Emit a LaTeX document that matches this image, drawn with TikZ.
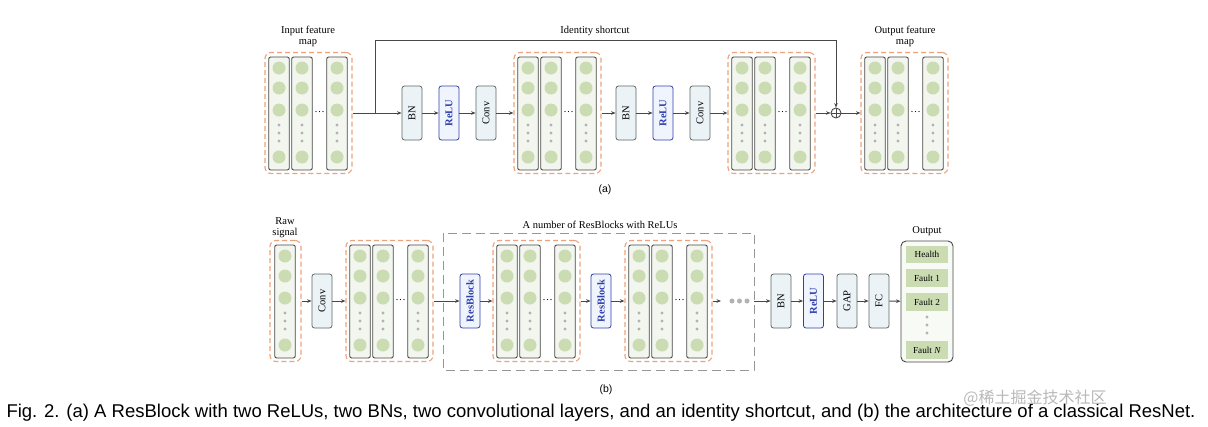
\documentclass[tikz,border=0pt]{standalone}
\usepackage{graphicx}
\usepackage{fontspec}
\setmainfont{Liberation Serif}
\newfontfamily\capfont{Liberation Sans}
\newfontfamily\cjkfont{Noto Sans CJK SC}
\usetikzlibrary{arrows.meta}

\definecolor{fmorange}{RGB}{236,162,124}
\definecolor{colfill}{RGB}{242,246,239}
\definecolor{cellgreen}{RGB}{203,219,178}
\definecolor{dotgray}{RGB}{178,178,178}
\definecolor{layerfill}{RGB}{236,243,246}
\definecolor{layerdraw}{RGB}{95,102,102}
\definecolor{relublue}{RGB}{48,64,170}
\definecolor{relufill}{RGB}{240,244,252}
\definecolor{linegray}{RGB}{72,72,72}
\definecolor{groupgray}{RGB}{150,150,150}

\tikzset{
  fmap/.style={draw=fmorange, dash pattern=on 5pt off 3pt, line width=1.1pt, rounded corners=6pt, minimum height=121pt, inner sep=0pt},
  column/.style={draw=linegray, fill=colfill, line width=0.9pt, rounded corners=2pt, minimum width=20.5pt, minimum height=113pt, inner sep=0pt},
  cell/.style={circle, fill=cellgreen, minimum size=13pt, inner sep=0pt},
  smalldot/.style={circle, fill=dotgray, minimum size=3.4pt, inner sep=0pt},
  layer/.style={draw=layerdraw, fill=layerfill, line width=0.8pt, rounded corners=2.5pt, minimum width=20pt, minimum height=54pt, inner sep=0pt, font=\fontsize{10.5}{11}\selectfont},
  relubox/.style={layer, draw=relublue, fill=relufill, text=relublue, font=\fontsize{10.5}{11}\selectfont\bfseries},
  resbox/.style={layer, draw=relublue, fill=relufill, text=relublue, font=\fontsize{10.5}{11}\selectfont\bfseries},
  outitem/.style={fill=cellgreen, minimum width=42pt, minimum height=17.5pt, inner sep=0pt, font=\fontsize{9.2}{10}\selectfont},
  label/.style={font=\fontsize{10.5}{11}\selectfont, align=center},
  tag/.style={font=\capfont\fontsize{10.5}{12}\selectfont},
  link/.style={->, draw=linegray, line width=0.9pt},
  >={Stealth[length=4.5pt,width=3.6pt]}
}

\begin{document}
\begin{tikzpicture}[x=1pt, y=-1pt]

\path[use as bounding box, fill=white] (0,0) rectangle (1208,426);

\foreach \nm/\xl/\yt in {fa1/265/52, fa2/514/52, fa3/728/52, fa4/861/52, fb2/346/240, fb3/493/240, fb4/625/240} {
  \node[fmap, minimum width=87pt] (\nm) at (\xl+43.5,\yt+61) {};
  \foreach \cx in {14,37,72} {
    \node[column] at (\xl+\cx,\yt+61.5) {};
    \foreach \cy in {16,36,58,105} \node[cell] at (\xl+\cx,\yt+\cy) {};
    \foreach \cy in {73,81,89} \node[smalldot] at (\xl+\cx,\yt+\cy) {};
  }
  \node[label] at (\xl+54.5,\yt+60) {\dots};
}

\node[fmap, minimum width=31pt] (raw) at (285.5,301) {};
\node[column] at (285,301.5) {};
\foreach \cy in {16,36,58,105} \node[cell] at (285,240+\cy) {};
\foreach \cy in {73,81,89} \node[smalldot] at (285,240+\cy) {};

\node[label] (infm) at (308,36.5) {Input feature\\map};

\node[label] (outfm) at (905,36.5) {Output feature\\map};

\node[label] (idsc) at (595,31) {Identity shortcut};

\node[layer] (bn1) at (412,113) {\rotatebox{90}{BN}};
\node[relubox] (relu1) at (449,113) {\rotatebox{90}{ReLU}};
\node[layer] (conv1) at (486,113) {\rotatebox{90}{Conv}};

\node[layer] (bn2) at (626,113) {\rotatebox{90}{BN}};
\node[relubox] (relu2) at (663,113) {\rotatebox{90}{ReLU}};
\node[layer] (conv2) at (700,113) {\rotatebox{90}{Conv}};

\node[circle, draw=linegray, line width=0.9pt, minimum size=10pt, inner sep=0pt,
  path picture={\draw[linegray, line width=0.9pt] (path picture bounding box.north) -- (path picture bounding box.south) (path picture bounding box.west) -- (path picture bounding box.east);}] (plus) at (836,113) {};

\coordinate (br) at (375,113);

\draw[link] (fa1) -- (bn1);
\draw[link] (bn1) -- (relu1);
\draw[link] (relu1) -- (conv1);
\draw[link] (conv1) -- (fa2);
\draw[link] (fa2) -- (bn2);
\draw[link] (bn2) -- (relu2);
\draw[link] (relu2) -- (conv2);
\draw[link] (conv2) -- (fa3);
\draw[link] (fa3) -- (plus);
\draw[link] (plus) -- (fa4);
\draw[link] (br) -- ++(0,-73) -| (plus.north);

\node[tag] (taga) at (605,190) {(a)};

\node[label] (rawlab) at (285,227.5) {Raw\\signal};

\node[label] (grplab) at (600,225) {A number of ResBlocks with ReLUs};

\draw[groupgray, line width=1pt, dash pattern=on 9pt off 5pt] (443,233) rectangle (754,370);

\node[layer] (conv0) at (322,301) {\rotatebox{90}{Conv}};
\node[resbox] (rb1) at (470,301) {\rotatebox{90}{ResBlock}};
\node[resbox] (rb2) at (601,301) {\rotatebox{90}{ResBlock}};
\node[layer] (bn3) at (781,301) {\rotatebox{90}{BN}};
\node[relubox] (relu3) at (813.5,301) {\rotatebox{90}{ReLU}};
\node[layer] (gap) at (847,301) {\rotatebox{90}{GAP}};
\node[layer] (fc) at (879,301) {\rotatebox{90}{FC}};

\coordinate (more) at (721,301);
\coordinate (grpend) at (754,301);
\node[smalldot, minimum size=5pt] (m1) at (732,301) {};
\node[smalldot, minimum size=5pt] (m2) at (739.5,301) {};
\node[smalldot, minimum size=5pt] (m3) at (747,301) {};

\node[label] (outlab) at (927,231) {Output};

\node[draw=linegray, fill=colfill!60!white, line width=0.9pt, rounded corners=5pt, minimum width=52pt, minimum height=121pt] (out) at (927,301.5) {};
\node[outitem] (o1) at (927,254.5) {Health};
\node[outitem] (o2) at (927,278) {Fault 1};
\node[outitem] (o3) at (927,302) {Fault 2};
\node[outitem] (o4) at (927,350) {Fault \textit{N}};
\foreach \cy in {317,325,333} \node[smalldot] at (927,\cy) {};

\draw[link] (raw) -- (conv0);
\draw[link] (conv0) -- (fb2);
\draw[link] (fb2) -- (rb1);
\draw[link] (rb1) -- (fb3);
\draw[link] (fb3) -- (rb2);
\draw[link] (rb2) -- (fb4);
\draw[link] (fb4) -- (more);
\draw[link] (grpend) -- (bn3);
\draw[link] (bn3) -- (relu3);
\draw[link] (relu3) -- (gap);
\draw[link] (gap) -- (fc);
\draw[link] (fc) -- (out);

\node[tag] (tagb) at (606,390) {(b)};

\node[font=\capfont\fontsize{18.5}{21}\selectfont] (caption) at (601,413) {Fig. 2. (a) A ResBlock with two ReLUs, two BNs, two convolutional layers, and an identity shortcut, and (b) the architecture of a classical ResNet.};

\node[font=\cjkfont\fontsize{16}{18}\selectfont, text=gray!55] (mark) at (1035,398) {@稀土掘金技术社区};

\end{tikzpicture}
\end{document}
